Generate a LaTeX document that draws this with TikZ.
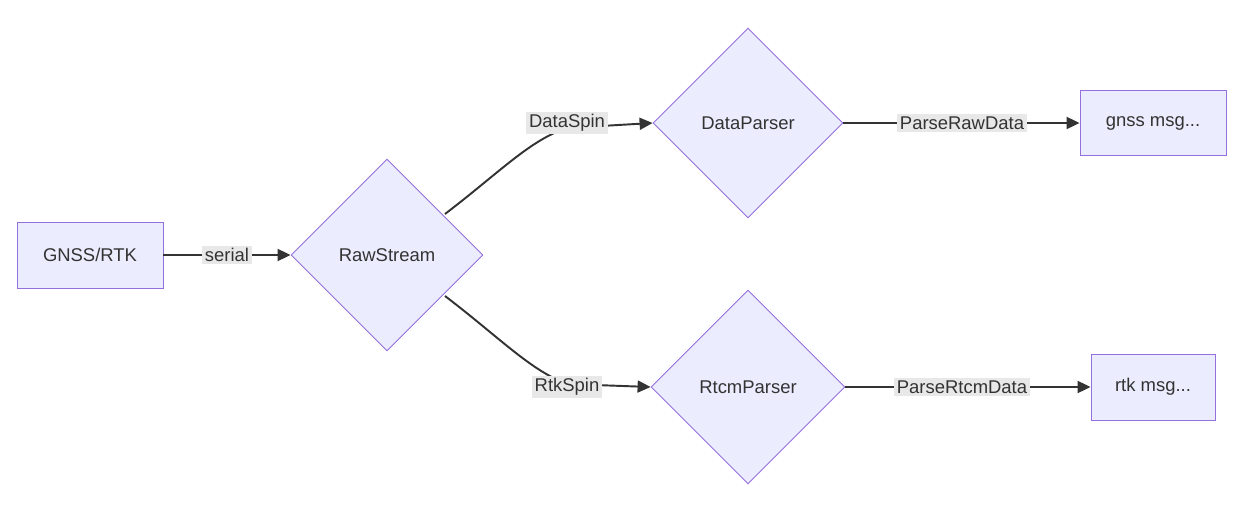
\documentclass[tikz,border=0pt]{standalone}
\usepackage{fontspec}
\setmainfont{Liberation Sans}
\usetikzlibrary{shapes.geometric,arrows.meta}
\definecolor{boxfill}{HTML}{ECECFF}
\definecolor{boxline}{HTML}{9370DB}
\definecolor{edgecol}{HTML}{333333}
\definecolor{lblfill}{HTML}{E8E8E8}
\begin{document}
\begin{tikzpicture}[
    x=0.02cm, y=-0.02cm,
    font=\fontsize{10.5}{12}\selectfont,
    box/.style={
        rectangle,
        draw=boxline,
        fill=boxfill,
        line width=0.5pt,
        text=edgecol,
        inner sep=0pt
    },
    decision/.style={
        diamond,
        draw=boxline,
        fill=boxfill,
        line width=0.5pt,
        text=edgecol,
        inner sep=0pt,
        minimum width=#1,
        minimum height=#1
    },
    flow/.style={
        draw=edgecol,
        line width=1.1pt,
        -{Triangle[length=0.26cm,width=0.24cm]}
    },
    lbl/.style={
        fill=lblfill,
        text=edgecol,
        inner sep=1.5pt
    }
]
    \useasboundingbox (0,0) rectangle (1233,513);

    % Nodes
    \node[box, minimum width=2.92cm, minimum height=1.32cm] (gnss) at (90,255) {GNSS/RTK};
    \node[decision=3.84cm] (raw) at (387,255) {RawStream};
    \node[decision=3.8cm] (dparser) at (748,123) {DataParser};
    \node[decision=3.88cm] (rparser) at (748,387) {RtcmParser};
    \node[box, minimum width=2.92cm, minimum height=1.3cm] (gmsg) at (1153,123) {gnss msg...};
    \node[box, minimum width=2.48cm, minimum height=1.32cm] (rmsg) at (1153,387) {rtk msg...};

    % Edges
    \draw[flow] (445,214) .. controls (500,172) and (530,140) .. (567,128) -- (dparser.west);
    \draw[flow] (445,296) .. controls (500,338) and (530,370) .. (567,384) -- (rparser.west);
    \draw[flow] (gnss) -- (raw);
    \draw[flow] (dparser.east) -- (gmsg);
    \draw[flow] (rparser.east) -- (rmsg);

    % Edge labels
    \node[lbl] (serial) at (227,255) {serial};
    \node[lbl] (dspin) at (567,123) {DataSpin};
    \node[lbl] (rspin) at (567,387) {RtkSpin};
    \node[lbl] (praw) at (962,123) {ParseRawData};
    \node[lbl] (prtcm) at (962,387) {ParseRtcmData};
\end{tikzpicture}
\end{document}
